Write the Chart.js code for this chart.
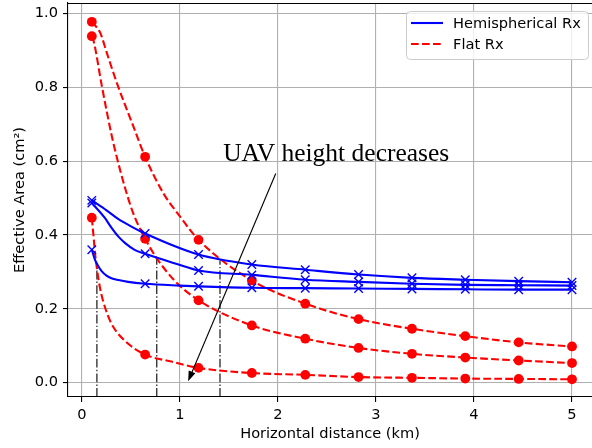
<!DOCTYPE html>
<html><head><meta charset="utf-8">
<script src="https://cdn.jsdelivr.net/npm/chart.js@4.4.0/dist/chart.umd.min.js"></script>
<style>html,body{margin:0;padding:0;background:#fff}canvas{display:block}</style>
</head><body>
<canvas id="c" width="592" height="448"></canvas>
<script>
// ---- data ----
const distances = [0.1, 0.644, 1.189, 1.733, 2.278, 2.822, 3.367, 3.911, 4.456, 5.0];
const xTicks = [0, 1, 2, 3, 4, 5];
const yTicks = [0.0, 0.2, 0.4, 0.6, 0.8, 1.0];

const hemi1 = [0.494, 0.404, 0.347, 0.320, 0.306, 0.293, 0.284, 0.279, 0.275, 0.272];
const hemi2 = [0.487, 0.349, 0.304, 0.292, 0.279, 0.273, 0.268, 0.265, 0.264, 0.263];
const hemi3 = [0.360, 0.268, 0.261, 0.257, 0.256, 0.255, 0.254, 0.253, 0.252, 0.252];
const flat1 = [0.978, 0.612, 0.387, 0.277, 0.214, 0.172, 0.146, 0.126, 0.109, 0.098];
const flat2 = [0.939, 0.390, 0.223, 0.155, 0.119, 0.094, 0.078, 0.068, 0.060, 0.053];
const flat3 = [0.447, 0.076, 0.040, 0.026, 0.021, 0.015, 0.013, 0.011, 0.010, 0.009];

// extra readings along the smooth curves between the markers
const hemi1CurveX = [0.25, 0.372, 0.49];
const hemi1CurveY = [0.467, 0.443, 0.425];
const hemi2CurveX = [0.231, 0.3, 0.367, 0.44, 0.537, 1.0];
const hemi2CurveY = [0.447, 0.420, 0.397, 0.378, 0.360, 0.319];
const hemi3CurveX = [0.13, 0.152, 0.2, 0.25, 0.3, 0.372, 0.47, 1.0];
const hemi3CurveY = [0.335, 0.322, 0.302, 0.290, 0.283, 0.278, 0.273, 0.263];
const flat1CurveX = [0.186, 0.254, 0.356, 0.525, 0.831, 1.001];
const flat1CurveY = [0.948, 0.893, 0.812, 0.694, 0.513, 0.450];
const flat2CurveX = [0.116, 0.203, 0.305, 0.354, 0.44, 0.524, 0.763, 0.95];
const flat2CurveY = [0.929, 0.803, 0.667, 0.612, 0.527, 0.458, 0.337, 0.275];
const flat3CurveX = [0.12, 0.135, 0.152, 0.168, 0.197, 0.231, 0.30, 0.435, 0.912];
const flat3CurveY = [0.390, 0.345, 0.310, 0.280, 0.240, 0.207, 0.160, 0.114, 0.057];

const dropX = [0.152, 0.763, 1.408];
const dropTop = [0.318, 0.337, 0.331];

const legendLabels = ['Hemispherical Rx', 'Flat Rx'];
const annotationText = 'UAV height decreases';
const textAt = [1.44, 0.601];
const arrowFrom = [1.977, 0.567];
const arrowTo = [1.083, 0.004];
const xRange = [-0.143, 5.204];
const yRange = [-0.039, 1.029];
const xTitle = 'Horizontal distance (km)';
const yTitle = 'Effective Area (cm²)';

// ---- build ----
const BLUE = '#0000ff', RED = '#ff0000';
function curve(mx, my, ex, ey) {
  const pts = mx.map((x, i) => ({x, y: my[i]})).concat(ex.map((x, i) => ({x, y: ey[i]})));
  pts.sort((a, b) => a.x - b.x);
  return pts;
}
function markers(ys) { return distances.map((x, i) => ({x, y: ys[i]})); }

const lineBase = {pointRadius: 0, borderWidth: 2.1, cubicInterpolationMode: 'monotone', fill: false};
const datasets = [];
[[hemi1, hemi1CurveX, hemi1CurveY], [hemi2, hemi2CurveX, hemi2CurveY], [hemi3, hemi3CurveX, hemi3CurveY]].forEach(([m, ex, ey]) => {
  datasets.push({data: markers(m), showLine: false, pointStyle: 'crossRot', pointRadius: 6, borderColor: BLUE, backgroundColor: BLUE, pointBorderWidth: 1.4});
  datasets.push(Object.assign({data: curve(distances, m, ex, ey), borderColor: BLUE}, lineBase));
});
[[flat1, flat1CurveX, flat1CurveY], [flat2, flat2CurveX, flat2CurveY], [flat3, flat3CurveX, flat3CurveY]].forEach(([m, ex, ey]) => {
  datasets.push({data: markers(m), showLine: false, pointStyle: 'circle', pointRadius: 4.9, borderColor: RED, backgroundColor: RED, pointBorderWidth: 0});
  datasets.push(Object.assign({data: curve(distances, m, ex, ey), borderColor: RED, borderDash: [7.7, 3.3]}, lineBase));
});
dropX.forEach((x, i) => {
  datasets.push({data: [{x, y: yRange[0]}, {x, y: dropTop[i]}], pointRadius: 0, borderWidth: 1.1, borderColor: '#000', borderDash: [8.9, 2.2, 1.4, 2.2], fill: false});
});

const tickFont = {family: 'DejaVu Sans', size: 14.6};

const overlay = {
  id: 'overlay',
  afterDraw(chart) {
    const {ctx, chartArea: a, scales: {x, y}} = chart;
    ctx.save();
    // top spine
    ctx.strokeStyle = '#000'; ctx.lineWidth = 1.1;
    ctx.beginPath(); ctx.moveTo(a.left, a.top + 0.5); ctx.lineTo(a.right, a.top + 0.5); ctx.stroke();
    // annotation text
    ctx.fillStyle = '#000';
    ctx.font = '25.5px "Liberation Serif"';
    ctx.textAlign = 'left'; ctx.textBaseline = 'alphabetic';
    ctx.fillText(annotationText, x.getPixelForValue(textAt[0]), y.getPixelForValue(textAt[1]));
    // arrow
    const x0 = x.getPixelForValue(arrowFrom[0]), y0 = y.getPixelForValue(arrowFrom[1]);
    const x1 = x.getPixelForValue(arrowTo[0]), y1 = y.getPixelForValue(arrowTo[1]);
    const ang = Math.atan2(y1 - y0, x1 - x0), hl = 10, hw = 3.6;
    const bx = x1 - hl * Math.cos(ang), by = y1 - hl * Math.sin(ang);
    ctx.lineWidth = 1.1;
    ctx.beginPath(); ctx.moveTo(x0, y0); ctx.lineTo(bx, by); ctx.stroke();
    ctx.beginPath();
    ctx.moveTo(x1, y1);
    ctx.lineTo(bx + hw * Math.sin(ang), by - hw * Math.cos(ang));
    ctx.lineTo(bx - hw * Math.sin(ang), by + hw * Math.cos(ang));
    ctx.closePath(); ctx.fill();
    // legend
    const lw = 182, lh = 48, lx = a.right - 4 - lw, ly = a.top + 8;
    ctx.beginPath();
    if (ctx.roundRect) ctx.roundRect(lx + 0.5, ly + 0.5, lw, lh, 4); else ctx.rect(lx + 0.5, ly + 0.5, lw, lh);
    ctx.fillStyle = 'rgba(255,255,255,0.8)'; ctx.fill();
    ctx.strokeStyle = '#cccccc'; ctx.lineWidth = 1; ctx.stroke();
    const rows = [[BLUE, []], [RED, [7.7, 3.3]]];
    ctx.font = '14.6px "DejaVu Sans"'; ctx.textBaseline = 'middle';
    rows.forEach(([col, dash], i) => {
      const ry = ly + 12 + i * 21;
      ctx.strokeStyle = col; ctx.lineWidth = 2.1; ctx.setLineDash(dash);
      ctx.beginPath(); ctx.moveTo(lx + 5, ry); ctx.lineTo(lx + 37, ry); ctx.stroke();
      ctx.setLineDash([]);
      ctx.fillStyle = '#000';
      ctx.fillText(legendLabels[i], lx + 47, ry + 1);
    });
    ctx.restore();
  }
};

new Chart(document.getElementById('c'), {
  type: 'line',
  data: {datasets},
  plugins: [overlay],
  options: {
    responsive: false, animation: false, devicePixelRatio: 1,
    layout: {autoPadding: false, padding: {top: 3, right: 0, left: 0, bottom: 0}},
    plugins: {legend: {display: false}, tooltip: {enabled: false}},
    scales: {
      x: {
        type: 'linear', min: xRange[0], max: xRange[1],
        afterBuildTicks: s => { s.ticks = xTicks.map(v => ({value: v})); },
        afterFit: s => { s.height = 51; s.paddingLeft = 0; s.paddingRight = 0; s.paddingTop = 0; s.paddingBottom = 0; },
        ticks: {font: tickFont, color: '#000', padding: 4, maxRotation: 0, callback: v => String(v)},
        grid: {color: '#b0b0b0', lineWidth: 1.1, tickColor: '#000', tickLength: 5, tickWidth: 1.1},
        border: {display: true, color: '#000', width: 1.1},
        title: {display: true, text: xTitle, font: tickFont, color: '#000', padding: {top: 0, bottom: 5}}
      },
      y: {
        type: 'linear', min: yRange[0], max: yRange[1],
        afterBuildTicks: s => { s.ticks = yTicks.map(v => ({value: v})); },
        afterFit: s => { s.width = 68; s.paddingLeft = 0; s.paddingRight = 0; s.paddingTop = 0; s.paddingBottom = 0; },
        ticks: {font: tickFont, color: '#000', padding: 5, callback: v => Number(v).toFixed(1)},
        grid: {color: '#b0b0b0', lineWidth: 1.1, tickColor: '#000', tickLength: 5, tickWidth: 1.1},
        border: {display: true, color: '#000', width: 1.1},
        title: {display: true, text: yTitle, font: tickFont, color: '#000', padding: {top: 11, bottom: 0}}
      }
    }
  }
});
</script>
</body></html>
